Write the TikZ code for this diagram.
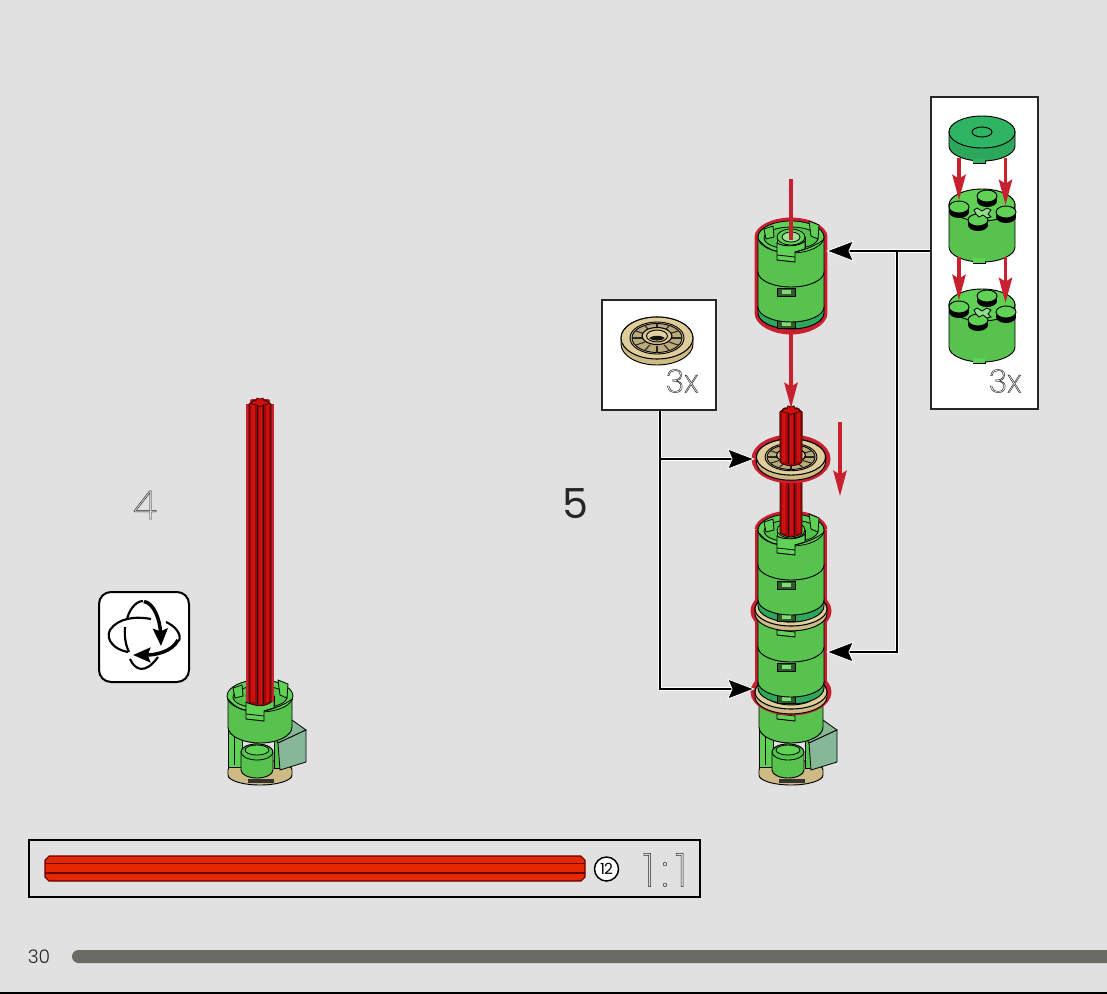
\documentclass[tikz,border=0pt]{standalone}
\usepackage{fontspec}
\setmainfont{Poppins}
\newfontfamily\thinf{Poppins ExtraLight}
\newfontfamily\lightf{Poppins Light}
\usetikzlibrary{arrows.meta,calc}
\definecolor{bgc}{HTML}{E1E1E1}
\definecolor{gL}{HTML}{5FD155}
\definecolor{gF}{HTML}{52C44A}
\definecolor{gD}{HTML}{2FB463}
\definecolor{tanc}{HTML}{DCC88F}
\definecolor{axl}{HTML}{9E0808}
\definecolor{axh}{HTML}{CC1010}
\definecolor{hilite}{HTML}{C8202F}
\definecolor{boxg}{HTML}{86B898}
\definecolor{barc}{HTML}{6B6B66}
\newcommand\outl[1]{\special{pdf:code q 1 Tr 0.35 w 0.15 G}#1\special{pdf:code Q}}
\newcommand\cylbody[5]{% y0 y1 rx ry colour
  \draw[ol,left color=#5!93!black,middle color=#5!94!white,right color=#5!93!black]
   (-#3,#1) -- (-#3,#2) .. controls +(0,{.55*#4}) and +({-.55*#3},0) .. (0,{#2+#4})
   .. controls +({.55*#3},0) and +(0,{.55*#4}) .. (#3,#2) -- (#3,#1)
   .. controls +(0,{-.55*#4}) and +({.55*#3},0) .. (0,{#1-#4})
   .. controls +({-.55*#3},0) and +(0,{-.55*#4}) .. (-#3,#1) -- cycle;}
\newcommand\notchmark[1]{% y
  \fill[gL!45!black,draw=black,line width=.6pt] (-14,#1) rectangle (4,{#1+8});
  \fill[gL!80!white] (-9,{#1+2}) rectangle (0,{#1+6});}
\newcommand\topfloor{%
  \fill[gL,draw=black,line width=.6pt] (0,0) ellipse [x radius=33,y radius=16];
  \fill[gF,draw=black,line width=.6pt] (0,1) ellipse [x radius=27,y radius=11];
  \fill[gL,draw=black,line width=.6pt] (-27,-8) -- (-18,-11) -- (-17,0) -- (-25,2) -- cycle;
  \fill[gL,draw=black,line width=.6pt] (18,-16) -- (20,-1) -- (27,2) -- (28,-12) -- cycle;
  \fill[gL,draw=black,line width=.6pt] (-14,0) rectangle (14,10);
  \fill[gL,draw=black,line width=.6pt] (0,0) ellipse [x radius=14,y radius=8];}
\newcommand\tabfront{%
  \fill[gL,draw=black,line width=.7pt] (-14,6) -- (-14,23) -- (4,25) -- (4,15) -- (14,12) -- (14,4) .. controls (8,10) and (-8,10) .. (-14,6) -- cycle;
  \draw[line width=.6pt] (-14,18) -- (4,20) (4,15) .. controls (14,13) and (26,8) .. (32,3) (-14,14) .. controls (-22,13) and (-28,8) .. (-32,3);}
\newcommand\module{% relative to top face centre
  \cylbody{70}{76}{33}{16}{gD}\notchmark{83}
  \cylbody{35}{70}{33}{15}{gL}\notchmark{51}
  \cylbody{0}{35}{33}{15}{gL}\topfloor}
\newcommand\hole{\fill[gL!60!white,draw=black,line width=.6pt] (0,0) ellipse [x radius=9,y radius=5];}
\newcommand\tandisc{%  unit: rx 36, ry 21, thickness 6
  \cylbody{0}{6}{36}{21}{tanc}
  \draw[line width=.8pt,fill=tanc!90!white] (0,0) ellipse [x radius=36,y radius=21];
  \draw[line width=.7pt] (0,0) ellipse [x radius=27,y radius=16];
  \fill[tanc!85!black,draw=black,line width=.7pt] (0,0) ellipse [x radius=25,y radius=14.5];
  \foreach \a in {0,30,...,330}{\draw[black!85,line width=.8pt] ({14*cos(\a)},{8*sin(\a)}) -- ({25*cos(\a)},{14.5*sin(\a)});}
  \fill[tanc,draw=black,line width=.8pt] (0,-2) ellipse [x radius=15,y radius=8.5];
  \fill[tanc!85!white,draw=black,line width=.7pt] (0,-2) ellipse [x radius=10.5,y radius=6];
  \fill[black!90!tanc] (-8,0) .. controls (-4,-3) and (4,-3) .. (8,0) .. controls (5,3.5) and (-5,3.5) .. (-8,0) -- cycle;}
\newcommand\axlepart[3]{% ytop ybot halfwidth
  \fill[axl,draw=black!70!axl,line width=.6pt] (-#3,#1) -- (-#3,#2) .. controls ({-#3*.5},{#2+5}) and ({#3*.5},{#2+5}) .. (#3,#2) -- (#3,{#1}) -- ({#3*.55},{#1-4}) -- ({-#3*.55},{#1-4}) -- cycle;
  \fill[axh] ({-#3*.85},#1) rectangle ({-#3*.5},#2);
  \fill[axh] ({-#3*.05},#1) rectangle ({#3*.2},{#2+2});
  \fill[axh] ({#3*.55},#1) rectangle ({#3*.85},#2);
  \draw[black!75!axl,line width=.7pt] ({-#3*.2},#1) -- ({-#3*.2},{#2+2}) ({#3*.35},#1) -- ({#3*.35},{#2+2});
  \fill[axh!90!red,draw=black!60!axl,line width=.5pt] (0,{#1-5}) -- (3,{#1-6}) -- (4,{#1-3}) -- (8,{#1-3}) -- (8,{#1}) -- (3,{#1+1}) -- (0,{#1+3}) -- (-3,{#1+1}) -- (-8,{#1}) -- (-8,{#1-3}) -- (-4,{#1-3}) -- (-3,{#1-6}) -- cycle;}
\newcommand\basepart{%
  \cylbody{770}{775}{32}{10}{tanc}
  \fill[black!80] (-12,779) rectangle (14,783);
  \fill[gL,draw=black,line width=.6pt] (-32,725) rectangle (-18,767);
  \draw[line width=.6pt] (-26,735) -- (-26,765);
  \fill[gF,draw=black,line width=.6pt] (14,740) rectangle (22,768);
  \fill[boxg,draw=black,line width=.6pt] (32,720) -- (46,730) -- (18,743) -- (10,730) -- cycle;
  \fill[boxg,draw=black,line width=.6pt] (18,743) -- (46,730) -- (46,762) -- (20,770) -- cycle;
  \begin{scope}[xshift=-3*.75pt]
  \cylbody{752}{770}{16}{8}{gL}
  \fill[gF,draw=black,line width=.6pt] (0,752) ellipse [x radius=16,y radius=8];
  \fill[gL,draw=black,line width=.6pt] (0,750) ellipse [x radius=12,y radius=5];
  \end{scope}
  \cylbody{696}{727}{32}{16}{gL}}
\newcommand\studp[2]{%
  \begin{scope}[shift={(#1,#2)}]
  \fill[black] (-10,0) rectangle (10,5);
  \fill[black] (0,5) ellipse [x radius=10,y radius=6];
  \fill[gL,draw=black,line width=.7pt] (0,0) ellipse [x radius=10,y radius=6];
  \end{scope}}
\newcommand\insetbrick{% at (0,0) top centre
  \fill[gL,draw=black,line width=.7pt] (-9,52) -- (-9,58) -- (3,58) -- (3,52) -- cycle;
  \cylbody{0}{42}{33}{15}{gL}
  \fill[gL,draw=black,line width=.7pt] (0,0) ellipse [x radius=33,y radius=16];
  \fill[gL] (-8.6,53) rectangle (2.6,57.5);
  \studp{5}{-9}\studp{-23}{2}\studp{24}{7}\studp{-4}{15}
  \draw[line width=.6pt,fill=gL!70!white] (-5,3) -- (0,6) -- (5,3) -- (9,5) -- (6,9) -- (9,12) -- (5,13) -- (1,10) -- (-3,12) -- (-6,9) -- (-8,5) -- cycle;}
\tikzset{
  ol/.style={draw=black,line width=.7pt},
  framebox/.style={draw=black!85,fill=white,line width=1.5pt,inner sep=0pt,anchor=north west},
  casing/.style={draw=white,line width=3.2pt},
  conn/.style={draw=black,line width=1.9pt},
  blk/.style={conn,-{Stealth[length=21pt,width=16pt,inset=3.5pt,color=white,fill=black,line width=.6pt]}},
  redarr/.style={hilite,line width=2.4pt,-{Stealth[length=19pt,width=10pt,inset=3pt]}},
  redln/.style={hilite,line width=2.4pt},
  halo/.style={draw=hilite,line width=5.2pt},
  thin text/.style={inner sep=0pt,font=\fontsize{#1}{#1}\selectfont},
  x=.75pt,y=-.75pt}
\begin{document}
\begin{tikzpicture}
\useasboundingbox (0,0) rectangle (1107,993);
\fill[bgc] (0,0) rectangle (1107,993);
% footer
\fill[barc,rounded corners=4.8pt] (72,950) rectangle (1120,963);
\draw[black,line width=1.5pt] (0,992.5) -- (1107,992.5);
\node[thin text=14pt,text=black!85] (pagenum) at (39,957) {\lightf 30};
% parts bar
\node[draw=black,line width=1.4pt,inner sep=0pt,anchor=north west,minimum width=503pt,minimum height=42.7pt] (partsbar) at (28,839) {};
\draw[fill=red!65!orange!90!black,draw=black!60!red,line width=.8pt] (49,856) -- (581,856) -- (585,860) -- (585,877) -- (581,881) -- (49,881) -- (45,877) -- (45,860) -- cycle;
\draw[black!60!red,line width=.8pt] (45,863.5) -- (585,863.5) (45,873) -- (585,873);
\node[circle,draw=black,fill=white,line width=1.1pt,minimum size=18pt,inner sep=0pt,font=\fontsize{11.5pt}{11.5pt}\selectfont] (qty) at (606.5,869) {1\kern-.6pt 2};
\node[thin text=35pt] (scale) at (665,870) {\thinf\outl{1\kern5pt:\kern5pt1}};
% step numbers
\node[thin text=30pt] (stepfour) at (145,505) {\thinf\outl{4}};
\node[thin text=31pt,text=black!85] (stepfive) at (575,504) {5};
% rotate icon
\node[draw=black,fill=white,line width=1.5pt,rounded corners=9pt,inner sep=0pt,minimum size=67.5pt,anchor=north west] (rotbox) at (98,591) {};
\draw[line width=1.6pt] (143,601) .. controls (135,601) and (128,612) .. (127,620);
\draw[line width=1.6pt] (125,627) .. controls (124,640) and (127,648) .. (129,652);
\draw[line width=1.6pt] (130,659) .. controls (135,670) and (145,675) .. (158,657);
\draw[line width=1.6pt] (151,619) .. controls (135,616) and (118,618) .. (110,630) .. controls (105,640) and (115,650) .. (128,652);
\draw[line width=1.6pt] (166,622) .. controls (175,626) and (182,634) .. (179,641);
\draw[line width=2.6pt,-{Stealth[length=13pt,width=11pt,inset=2pt]}] (144,601.5) .. controls (154,603) and (160,620) .. (161,646);
\draw[line width=2.6pt,-{Stealth[length=13pt,width=11pt,inset=2pt]}] (178,640) .. controls (172,652) and (155,655) .. (133,655);
% left model
\begin{scope}[shift={(260,0)}]
\basepart
\begin{scope}[shift={(0,696)}]\topfloor\end{scope}
\begin{scope}[shift={(0,696)}]\tabfront\end{scope}
\draw[halo,line width=3pt] (-12,404) -- (-12,702) (12,404) -- (12,702);
\draw[hilite,line width=3pt,line cap=round] (-8,401) -- (8,401);
\axlepart{404}{702}{11}
\end{scope}
% right model, bottom up
\begin{scope}[shift={(791,0)}]
\begin{scope}[xshift=0pt]\basepart\end{scope}
\begin{scope}[shift={(0,696)}]\tabfront\end{scope}
\draw[halo] (-33,530) -- (-33,690) (33,530) -- (33,690);
\draw[halo] (-33,530) .. controls (-33,522) and (-18,514) .. (0,514) .. controls (18,514) and (33,522) .. (33,530);
\draw[halo] (0,692) ellipse [x radius=37,y radius=20];
\draw[halo] (0,611) ellipse [x radius=37,y radius=20];
\begin{scope}[shift={(0,692)},xscale=1,yscale=.81]\tandisc\end{scope}
\begin{scope}[shift={(0,612)}]\module\tabfront\end{scope}
\begin{scope}[shift={(0,609)},yscale=.81]\tandisc\end{scope}
\begin{scope}[shift={(0,530)}]\module\end{scope}
\axlepart{412}{533}{11}
\begin{scope}[shift={(0,530)}]\tabfront\end{scope}
\draw[halo] (0,459) ellipse [x radius=36,y radius=21];
\begin{scope}[shift={(0,457)},xscale=.96,yscale=.86]\tandisc\end{scope}
\axlepart{412}{462}{11}
% upper module
\draw[halo] (-33,237) -- (-33,313) .. controls (-33,322) and (-18,331) .. (0,331) .. controls (18,331) and (33,322) .. (33,313) -- (33,237) .. controls (33,229) and (18,221) .. (0,221) .. controls (-18,221) and (-33,229) .. (-33,237) -- cycle;
\begin{scope}[shift={(0,237)}]\module\hole\tabfront\end{scope}
\end{scope}
% inset boxes
\node[framebox,minimum width=85.5pt,minimum height=82.5pt] (discbox) at (601,299) {};
\begin{scope}[shift={(657,338)}]\tandisc\end{scope}
\node[thin text=24pt] (discqty) at (682,381) {\thinf\outl{3x}};
\node[framebox,minimum width=80.5pt,minimum height=234pt] (brickbox) at (930,96) {};
\begin{scope}[shift={(982,132)}]
\fill[gD,draw=black,line width=.7pt] (-9,26) -- (-9,31) -- (3,31) -- (3,26) -- cycle;
\cylbody{0}{14}{33}{15}{gD}
\fill[gD,draw=black,line width=.7pt] (0,0) ellipse [x radius=33,y radius=16];
\draw[line width=.7pt] (0,0) ellipse [x radius=10,y radius=5];
\fill[gD] (-8.6,27) rectangle (2.6,30.5);
\end{scope}
\begin{scope}[shift={(982,205)}]\insetbrick\end{scope}
\begin{scope}[shift={(982,305)}]\insetbrick\end{scope}
\node[thin text=24pt] (brickqty) at (1005,381) {\thinf\outl{3x}};
% red arrows in brick box
\coordinate (a1s) at (959,158); \coordinate (a1e) at (959,200);
\coordinate (a2s) at (1005.5,158); \coordinate (a2e) at (1005.5,205);
\coordinate (a3s) at (959,257); \coordinate (a3e) at (959,300);
\coordinate (a4s) at (1005.5,257); \coordinate (a4e) at (1005.5,303);
\draw[redarr] (a1s) -- (a1e);
\draw[redarr] (a2s) -- (a2e);
\draw[redarr] (a3s) -- (a3e);
\draw[redarr] (a4s) -- (a4e);
% red arrows in the main column
\coordinate (r1s) at (791,179); \coordinate (r1e) at (791,240);
\coordinate (r2s) at (791,334); \coordinate (r2e) at (791,408);
\coordinate (r3s) at (840,422); \coordinate (r3e) at (840,496);
\draw[redln] (r1s) -- (r1e);
\draw[redarr] (r2s) -- (r2e);
\draw[redarr] (r3s) -- (r3e);
% call-out connectors
\coordinate (t1) at (826,251);
\coordinate (t2) at (826,652);
\coordinate (t3) at (755,459);
\coordinate (t4) at (755,689);
\coordinate (j1) at (897,251);
\coordinate (j2) at (660,459);
\draw[casing] (j1) |- ($(t2)+(15,0)$);
\draw[casing] (brickbox.west |- t1) -- ($(t1)+(15,0)$);
\draw[casing] (discbox.south -| j2) -- (j2) -- ($(t3)+(-15,0)$);
\draw[casing] (j2) |- ($(t4)+(-15,0)$);
\draw[blk] (j1) |- (t2);
\draw[blk] (brickbox.west |- t1) -- (t1);
\draw[conn] (discbox.south -| j2) -- (j2);
\draw[blk] (j2) -- (t3);
\draw[blk] (j2) |- (t4);
\end{tikzpicture}
\end{document}
